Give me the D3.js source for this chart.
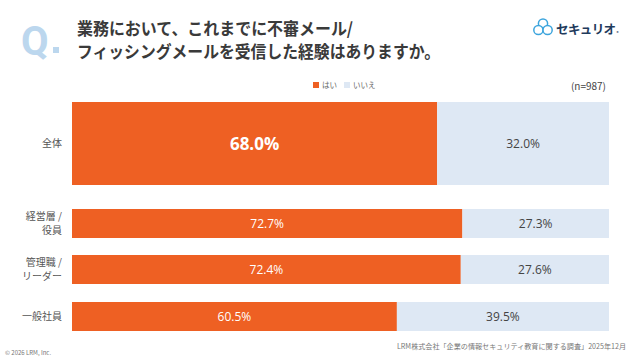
<!DOCTYPE html>
<html><head><meta charset="utf-8">
<script src="https://cdn.jsdelivr.net/npm/d3@7"></script>
<style>
html,body{margin:0;padding:0;background:#fff;}
svg{display:block;font-family:"Noto Sans CJK JP","Noto Sans",sans-serif;}
</style></head>
<body><svg id="c" width="640" height="360"></svg>
<script>
const categories = [["全体"], ["経営層 /", "役員"], ["管理職 /", "リーダー"], ["一般社員"]];
const yesValues = [68.0, 72.7, 72.4, 60.5];
const noValues = [32.0, 27.3, 27.6, 39.5];
const seriesNames = ["はい", "いいえ"];
const colors = ["#EE6023", "#DEE8F4"];

const svg = d3.select("#c");
const x = d3.scaleLinear().domain([0, 100]).range([72, 609]);
const barTops = [102, 209, 255, 302];
const barHeights = [83, 29, 29, 29];
const y = i => barTops[i];

// Title
svg.append("text").attr("x", 21).attr("y", 55).attr("font-family", "Roboto, 'Open Sans', sans-serif")
  .attr("font-size", 40).attr("font-weight", 700).attr("fill", "#BCD7EE").text("Q");
svg.append("rect").attr("x", 53).attr("y", 47).attr("width", 6).attr("height", 6).attr("fill", "#BCD7EE");
const title = ["業務において、これまでに不審メール/", "フィッシングメールを受信した経験はありますか。"];
const titleLens = [276, 363];
title.forEach((t, i) => svg.append("text").attr("x", 77).attr("y", 35 + i * 23)
  .attr("font-size", 17).attr("font-weight", 700).attr("fill", "#3a3a3a")
  .attr("textLength", titleLens[i]).attr("lengthAdjust", "spacingAndGlyphs").text(t));

// Logo
const logo = svg.append("g").attr("transform", "translate(543,28)");
[[0,-4.5],[-4.6,2],[4.6,2]].forEach(p => logo.append("circle").attr("cx", p[0]).attr("cy", p[1]).attr("r", 4.6)
  .attr("fill", "#fff").attr("stroke", "#3DA5DD").attr("stroke-width", 1.5));
const lt = svg.append("text").attr("x", 556).attr("y", 34).attr("font-size", 12.5).attr("font-weight", 700)
  .attr("fill", "#1F3B5C").attr("letter-spacing", -0.6);
lt.append("tspan").text("セキュリオ");
lt.append("tspan").attr("font-size", 4).attr("dx", 1).attr("dy", 1).text("®");

// Legend
const leg = [[313, 0], [344, 1]];
leg.forEach(([lx, i]) => {
  svg.append("rect").attr("x", lx).attr("y", 82).attr("width", 6).attr("height", 6).attr("fill", colors[i]);
  svg.append("text").attr("x", lx + 9).attr("y", 88).attr("font-size", 7.5).attr("fill", "#666").text(seriesNames[i]);
});
svg.append("text").attr("x", 606).attr("y", 90).attr("text-anchor", "end").attr("font-size", 10)
  .attr("fill", "#444").text("(n=987)");

// Bars
categories.forEach((cat, i) => {
  const yy = y(i), h = barHeights[i];
  svg.append("rect").attr("x", x(0)).attr("y", yy).attr("width", x(yesValues[i]) - x(0)).attr("height", h).attr("fill", colors[0]);
  svg.append("rect").attr("x", x(yesValues[i])).attr("y", yy).attr("width", x(100) - x(yesValues[i])).attr("height", h).attr("fill", colors[1]);
  const big = i === 0;
  svg.append("text").attr("x", (x(0) + x(yesValues[i])) / 2).attr("y", yy + h / 2).attr("dy", "0.36em")
    .attr("text-anchor", "middle").attr("font-size", big ? 17 : 12).attr("font-weight", big ? 700 : 400)
    .attr("fill", "#fff").attr("font-family", "'Open Sans', 'Noto Sans', sans-serif").text(yesValues[i].toFixed(1) + "%");
  svg.append("text").attr("x", (x(yesValues[i]) + x(100)) / 2).attr("y", yy + h / 2).attr("dy", "0.36em")
    .attr("text-anchor", "middle").attr("font-size", 12).attr("fill", "#444")
    .attr("font-family", "'Open Sans', 'Noto Sans', sans-serif").text(noValues[i].toFixed(1) + "%");
  const n = cat.length;
  cat.forEach((line, k) => svg.append("text").attr("x", 62).attr("y", yy + h / 2 + (k - (n - 1) / 2) * 14).attr("dy", "0.36em")
    .attr("text-anchor", "end").attr("font-size", 10).attr("fill", "#555").text(line));
});

// Footer
svg.append("text").attr("x", 5).attr("y", 355).attr("font-size", 6).attr("fill", "#777").text("© 2026 LRM, Inc.");
svg.append("text").attr("x", 397).attr("y", 349).attr("font-size", 7).attr("fill", "#777")
  .attr("textLength", 229).attr("lengthAdjust", "spacingAndGlyphs")
  .text("LRM株式会社「企業の情報セキュリティ教育に関する調査」2025年12月");
</script></body></html>
